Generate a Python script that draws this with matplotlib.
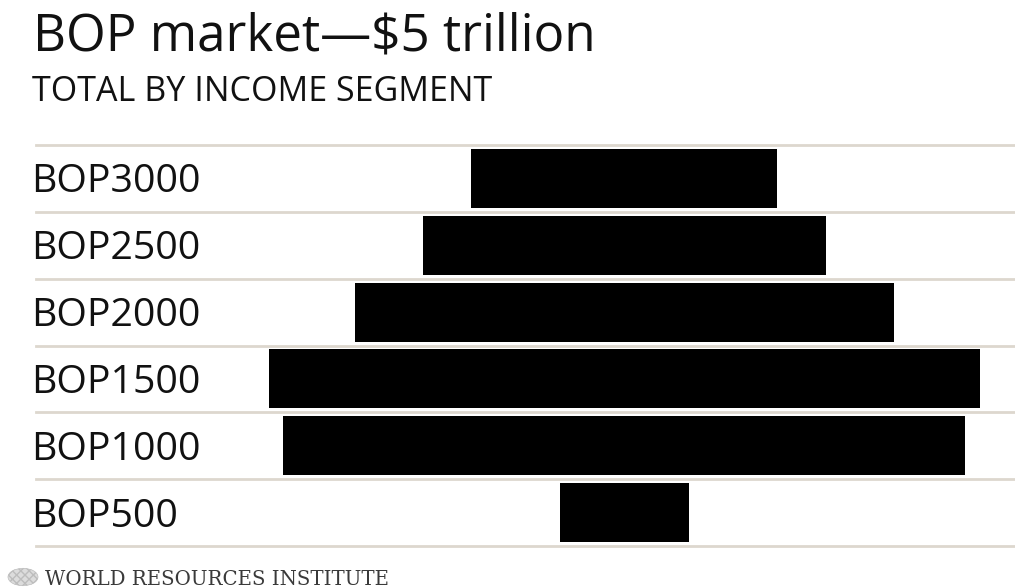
import matplotlib
matplotlib.use("Agg")
import matplotlib.pyplot as plt
from matplotlib.patches import Circle

# BOP market by income segment, billions of US$
segments = ["BOP3000", "BOP2500", "BOP2000", "BOP1500", "BOP1000", "BOP500"]
market = [552, 726, 974, 1284, 1231, 234]

title = "BOP market\u2014$5 trillion"
subtitle = "TOTAL BY INCOME SEGMENT"
source = "WORLD RESOURCES INSTITUTE"

W, H = 1015, 588
fig = plt.figure(figsize=(W / 100, H / 100), dpi=100)
fig.patch.set_facecolor("white")

# axes span from the first gridline to the last one
ax = fig.add_axes([36 / W, 42 / H, 1 - 36 / W, (546 - 145) / H])
ax.set_xlim(-1062, 705)
ax.set_ylim(len(segments) - 0.5, -0.5)
ax.axis("off")

pos = list(range(len(segments)))
# bars centred on zero -> pyramid
ax.barh(pos, market, left=[-v / 2 for v in market], height=0.883,
        color="black", edgecolor="none", zorder=3)

for y in [p - 0.5 for p in pos] + [len(segments) - 0.5]:
    ax.axhline(y, color="#ddd7ce", lw=2.0, clip_on=False, zorder=1)

# category labels on the left
lab_tr = matplotlib.transforms.blended_transform_factory(fig.transFigure, ax.transData)
for p, name in zip(pos, segments):
    ax.text(31 / W, p + 0.21, name, transform=lab_tr, ha="left", va="baseline",
            fontsize=28.3, family="Open Sans", color="#111111")

fig.text(33 / W, 1 - 50 / H, title, ha="left", va="baseline",
         fontsize=36.8, family="Open Sans", color="#111111")
fig.text(32 / W, 1 - 101 / H, subtitle, ha="left", va="baseline",
         fontsize=24.5, family="Open Sans", color="#111111")

# footer with a little globe mark
logo = Circle((23 / W, 1 - 577 / H), 15 / W, transform=fig.transFigure,
              facecolor="#dcdcdc", edgecolor="#bdbdbd", hatch="xxxx", lw=0.5)
fig.patches.append(logo)
fig.text(45 / W, 1 - 585 / H, source, ha="left", va="baseline",
         fontsize=14.2, family="DejaVu Serif", color="#3a3a3a")

fig.savefig("out.png", dpi=100, facecolor="white")
